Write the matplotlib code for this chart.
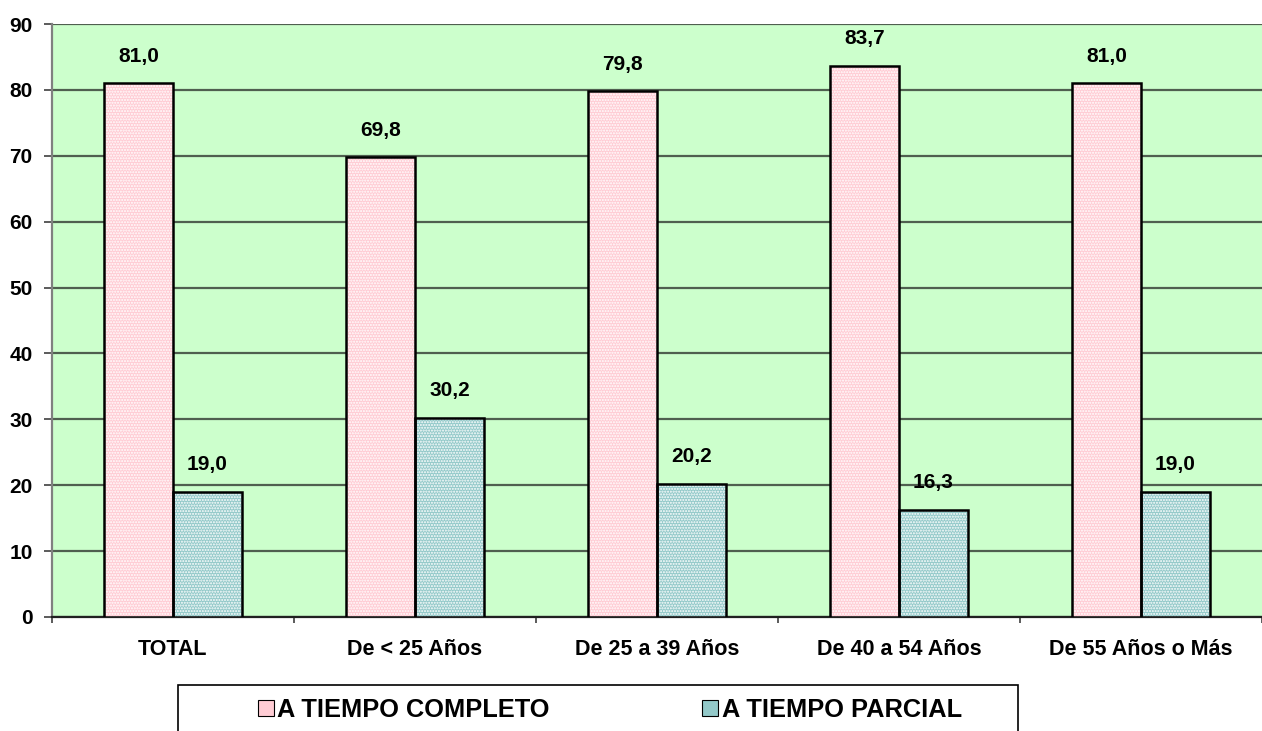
import numpy as np
import matplotlib.pyplot as plt
from matplotlib.patches import Rectangle

plt.rcParams['font.family'] = ['Liberation Sans', 'DejaVu Sans']
plt.rcParams['font.weight'] = 'bold'
plt.rcParams['hatch.linewidth'] = 1.0

# Ocupados por tipo de jornada y grupo de edad (%)
categorias = ["TOTAL", "De < 25 Años", "De 25 a 39 Años", "De 40 a 54 Años", "De 55 Años o Más"]
completo = [81.0, 69.8, 79.8, 83.7, 81.0]
parcial = [19.0, 30.2, 20.2, 16.3, 19.0]
series = ["A TIEMPO COMPLETO", "A TIEMPO PARCIAL"]

rosa = "#FFCCD4"
verde_agua = "#93C9C9"
fondo = "#CCFFCC"

fig = plt.figure(figsize=(12.62, 7.31), dpi=100)
ax = fig.add_axes([0.0412, 0.156, 0.9588, 0.811])
ax.set_facecolor(fondo)

x = np.arange(len(categorias))
w = 0.285

def barras(pos, vals, color):
    # relleno punteado + borde negro por separado
    ax.bar(pos, vals, w, color=color, edgecolor="white", hatch="......", linewidth=0, zorder=3)
    return ax.bar(pos, vals, w, fill=False, edgecolor="black", linewidth=1.8, zorder=4)

b1 = barras(x - w / 2, completo, rosa)
b2 = barras(x + w / 2, parcial, verde_agua)

for bars, vals in [(b1, completo), (b2, parcial)]:
    for rect, v in zip(bars, vals):
        ax.annotate(f"{v:.1f}".replace(".", ","),
                    (rect.get_x() + rect.get_width() / 2, rect.get_height()),
                    xytext=(0, 19.5), textcoords="offset points",
                    ha="center", va="center", fontsize=15, fontweight="bold")

ax.set_xlim(-0.5, len(categorias) - 0.5)
ax.set_ylim(0, 90)
ax.set_yticks(range(0, 91, 10))
ax.set_xticks(x)
ax.set_xticklabels(categorias)
ax.set_xticks(np.arange(-0.5, len(categorias), 1.0), minor=True)
ax.tick_params(axis="x", which="major", length=0, pad=16, labelsize=15.5)
ax.tick_params(axis="x", which="minor", length=4, width=1.2, color="#404040")
ax.tick_params(axis="y", length=6, width=1.2, color="#404040", pad=8, labelsize=15)

ax.grid(axis="y", color="#4f5f4f", linewidth=1.6, zorder=1)
ax.set_axisbelow(True)
for s in ["top", "right"]:
    ax.spines[s].set_visible(False)
ax.spines["left"].set_color("#808080")
ax.spines["left"].set_linewidth(1.6)
ax.spines["bottom"].set_color("#202020")
ax.spines["bottom"].set_linewidth(1.6)

# leyenda en caja inferior
fig.patches.append(Rectangle((178 / 1262, -0.05), 840 / 1262, 0.05 + 46 / 731,
                             transform=fig.transFigure, facecolor="white",
                             edgecolor="black", linewidth=1.2))
handles = [Rectangle((0, 0), 1, 1, facecolor=rosa, edgecolor="black", linewidth=0.8),
           Rectangle((0, 0), 1, 1, facecolor=verde_agua, edgecolor="black", linewidth=0.8)]
fig.legend(handles, series, loc="center", bbox_to_anchor=(610 / 1262, 21 / 731),
           ncol=2, frameon=False, fontsize=18.3, handlelength=0.6, handleheight=0.6,
           handletextpad=0.15, columnspacing=6.0)

fig.savefig("out.png", dpi=100)
